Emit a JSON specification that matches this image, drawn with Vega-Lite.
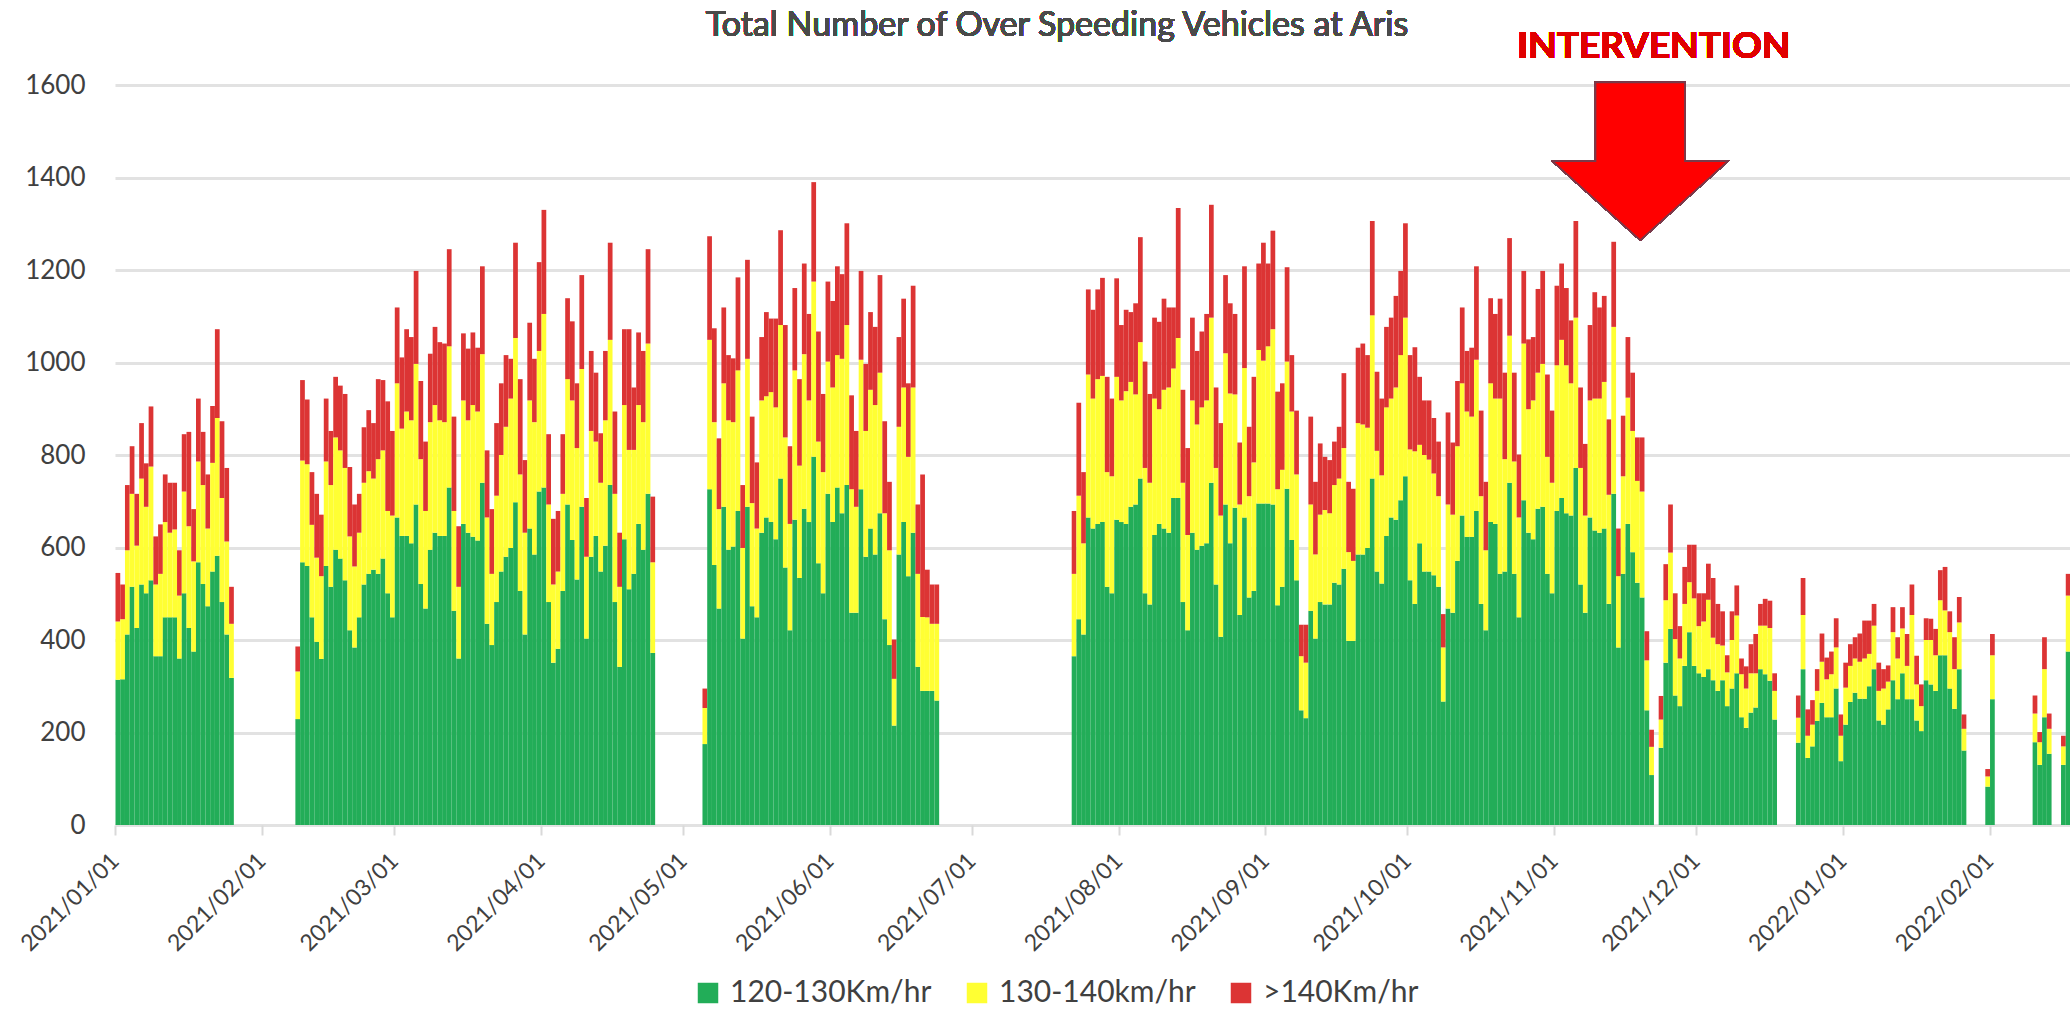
{
"$schema": "https://vega.github.io/schema/vega-lite/v6.json",
"width": 1955, "height": 740,
"autosize": {"type": "none"},
"padding": {"left": 115, "top": 85, "right": 0, "bottom": 196},
"background": "white",
"config": {"view": {"stroke": null}, "font": "Lato"},
"data": {"values": [
{"date":"2021-01-01","v120":314,"v130":126,"v140":105},
{"date":"2021-01-02","v120":315,"v130":130,"v140":75},
{"date":"2021-01-03","v120":412,"v130":182,"v140":141},
{"date":"2021-01-04","v120":515,"v130":201,"v140":103},
{"date":"2021-01-05","v120":426,"v130":178,"v140":112},
{"date":"2021-01-06","v120":520,"v130":229,"v140":120},
{"date":"2021-01-07","v120":501,"v130":187,"v140":94},
{"date":"2021-01-08","v120":529,"v130":246,"v140":130},
{"date":"2021-01-09","v120":365,"v130":155,"v140":104},
{"date":"2021-01-10","v120":365,"v130":178,"v140":107},
{"date":"2021-01-11","v120":449,"v130":206,"v140":103},
{"date":"2021-01-12","v120":449,"v130":183,"v140":108},
{"date":"2021-01-13","v120":449,"v130":190,"v140":101},
{"date":"2021-01-14","v120":360,"v130":136,"v140":98},
{"date":"2021-01-15","v120":501,"v130":220,"v140":124},
{"date":"2021-01-16","v120":426,"v130":220,"v140":204},
{"date":"2021-01-17","v120":375,"v130":195,"v140":113},
{"date":"2021-01-18","v120":568,"v130":218,"v140":136},
{"date":"2021-01-19","v120":521,"v130":214,"v140":115},
{"date":"2021-01-20","v120":473,"v130":168,"v140":117},
{"date":"2021-01-21","v120":548,"v130":235,"v140":123},
{"date":"2021-01-22","v120":582,"v130":298,"v140":192},
{"date":"2021-01-23","v120":482,"v130":225,"v140":166},
{"date":"2021-01-24","v120":412,"v130":201,"v140":159},
{"date":"2021-01-25","v120":318,"v130":117,"v140":80},
{"date":"2021-02-08","v120":229,"v130":103,"v140":54},
{"date":"2021-02-09","v120":568,"v130":220,"v140":174},
{"date":"2021-02-10","v120":560,"v130":220,"v140":140},
{"date":"2021-02-11","v120":449,"v130":200,"v140":114},
{"date":"2021-02-12","v120":396,"v130":182,"v140":138},
{"date":"2021-02-13","v120":359,"v130":179,"v140":133},
{"date":"2021-02-14","v120":560,"v130":226,"v140":136},
{"date":"2021-02-15","v120":515,"v130":220,"v140":117},
{"date":"2021-02-16","v120":595,"v130":243,"v140":131},
{"date":"2021-02-17","v120":576,"v130":234,"v140":140},
{"date":"2021-02-18","v120":529,"v130":243,"v140":160},
{"date":"2021-02-19","v120":421,"v130":203,"v140":150},
{"date":"2021-02-20","v120":384,"v130":175,"v140":134},
{"date":"2021-02-21","v120":449,"v130":183,"v140":84},
{"date":"2021-02-22","v120":520,"v130":220,"v140":120},
{"date":"2021-02-23","v120":543,"v130":222,"v140":132},
{"date":"2021-02-24","v120":552,"v130":197,"v140":120},
{"date":"2021-02-25","v120":543,"v130":248,"v140":173},
{"date":"2021-02-26","v120":576,"v130":234,"v140":152},
{"date":"2021-02-27","v120":501,"v130":178,"v140":237},
{"date":"2021-02-28","v120":449,"v130":220,"v140":183},
{"date":"2021-03-01","v120":665,"v130":290,"v140":164},
{"date":"2021-03-02","v120":625,"v130":232,"v140":154},
{"date":"2021-03-03","v120":625,"v130":269,"v140":178},
{"date":"2021-03-04","v120":609,"v130":266,"v140":180},
{"date":"2021-03-05","v120":693,"v130":304,"v140":201},
{"date":"2021-03-06","v120":521,"v130":270,"v140":169},
{"date":"2021-03-07","v120":468,"v130":211,"v140":150},
{"date":"2021-03-08","v120":595,"v130":276,"v140":148},
{"date":"2021-03-09","v120":632,"v130":276,"v140":169},
{"date":"2021-03-10","v120":625,"v130":250,"v140":169},
{"date":"2021-03-11","v120":625,"v130":246,"v140":170},
{"date":"2021-03-12","v120":730,"v130":305,"v140":210},
{"date":"2021-03-13","v120":463,"v130":216,"v140":204},
{"date":"2021-03-14","v120":360,"v130":155,"v140":131},
{"date":"2021-03-15","v120":651,"v130":267,"v140":145},
{"date":"2021-03-16","v120":632,"v130":243,"v140":155},
{"date":"2021-03-17","v120":623,"v130":285,"v140":157},
{"date":"2021-03-18","v120":615,"v130":279,"v140":138},
{"date":"2021-03-19","v120":740,"v130":278,"v140":190},
{"date":"2021-03-20","v120":435,"v130":230,"v140":145},
{"date":"2021-03-21","v120":389,"v130":154,"v140":140},
{"date":"2021-03-22","v120":482,"v130":230,"v140":157},
{"date":"2021-03-23","v120":548,"v130":252,"v140":155},
{"date":"2021-03-24","v120":580,"v130":281,"v140":155},
{"date":"2021-03-25","v120":599,"v130":323,"v140":86},
{"date":"2021-03-26","v120":698,"v130":355,"v140":206},
{"date":"2021-03-27","v120":506,"v130":252,"v140":206},
{"date":"2021-03-28","v120":412,"v130":220,"v140":157},
{"date":"2021-03-29","v120":641,"v130":277,"v140":168},
{"date":"2021-03-30","v120":585,"v130":286,"v140":137},
{"date":"2021-03-31","v120":721,"v130":304,"v140":192},
{"date":"2021-04-01","v120":730,"v130":375,"v140":225},
{"date":"2021-04-02","v120":482,"v130":211,"v140":152},
{"date":"2021-04-03","v120":351,"v130":169,"v140":142},
{"date":"2021-04-04","v120":381,"v130":167,"v140":131},
{"date":"2021-04-05","v120":506,"v130":210,"v140":129},
{"date":"2021-04-06","v120":693,"v130":271,"v140":175},
{"date":"2021-04-07","v120":616,"v130":302,"v140":171},
{"date":"2021-04-08","v120":531,"v130":284,"v140":140},
{"date":"2021-04-09","v120":688,"v130":298,"v140":203},
{"date":"2021-04-10","v120":403,"v130":177,"v140":127},
{"date":"2021-04-11","v120":580,"v130":272,"v140":173},
{"date":"2021-04-12","v120":625,"v130":204,"v140":149},
{"date":"2021-04-13","v120":548,"v130":192,"v140":107},
{"date":"2021-04-14","v120":604,"v130":271,"v140":150},
{"date":"2021-04-15","v120":735,"v130":314,"v140":210},
{"date":"2021-04-16","v120":482,"v130":234,"v140":178},
{"date":"2021-04-17","v120":342,"v130":173,"v140":117},
{"date":"2021-04-18","v120":618,"v130":290,"v140":164},
{"date":"2021-04-19","v120":510,"v130":301,"v140":261},
{"date":"2021-04-20","v120":543,"v130":268,"v140":135},
{"date":"2021-04-21","v120":651,"v130":257,"v140":157},
{"date":"2021-04-22","v120":595,"v130":276,"v140":154},
{"date":"2021-04-23","v120":716,"v130":325,"v140":204},
{"date":"2021-04-24","v120":372,"v130":196,"v140":142},
{"date":"2021-05-05","v120":175,"v130":78,"v140":42},
{"date":"2021-05-06","v120":726,"v130":323,"v140":224},
{"date":"2021-05-07","v120":562,"v130":309,"v140":203},
{"date":"2021-05-08","v120":468,"v130":215,"v140":153},
{"date":"2021-05-09","v120":688,"v130":267,"v140":164},
{"date":"2021-05-10","v120":595,"v130":280,"v140":141},
{"date":"2021-05-11","v120":602,"v130":269,"v140":138},
{"date":"2021-05-12","v120":679,"v130":304,"v140":201},
{"date":"2021-05-13","v120":403,"v130":196,"v140":136},
{"date":"2021-05-14","v120":688,"v130":320,"v140":214},
{"date":"2021-05-15","v120":473,"v130":223,"v140":187},
{"date":"2021-05-16","v120":449,"v130":192,"v140":143},
{"date":"2021-05-17","v120":632,"v130":286,"v140":137},
{"date":"2021-05-18","v120":665,"v130":262,"v140":182},
{"date":"2021-05-19","v120":655,"v130":281,"v140":159},
{"date":"2021-05-20","v120":618,"v130":285,"v140":192},
{"date":"2021-05-21","v120":749,"v130":332,"v140":205},
{"date":"2021-05-22","v120":557,"v130":281,"v140":243},
{"date":"2021-05-23","v120":421,"v130":230,"v140":168},
{"date":"2021-05-24","v120":660,"v130":323,"v140":178},
{"date":"2021-05-25","v120":534,"v130":243,"v140":187},
{"date":"2021-05-26","v120":684,"v130":334,"v140":196},
{"date":"2021-05-27","v120":655,"v130":263,"v140":187},
{"date":"2021-05-28","v120":796,"v130":379,"v140":215},
{"date":"2021-05-29","v120":566,"v130":263,"v140":238},
{"date":"2021-05-30","v120":501,"v130":262,"v140":169},
{"date":"2021-05-31","v120":716,"v130":286,"v140":173},
{"date":"2021-06-01","v120":655,"v130":291,"v140":187},
{"date":"2021-06-02","v120":730,"v130":286,"v140":192},
{"date":"2021-06-03","v120":674,"v130":334,"v140":183},
{"date":"2021-06-04","v120":735,"v130":346,"v140":220},
{"date":"2021-06-05","v120":459,"v130":267,"v140":203},
{"date":"2021-06-06","v120":459,"v130":229,"v140":164},
{"date":"2021-06-07","v120":726,"v130":280,"v140":192},
{"date":"2021-06-08","v120":580,"v130":272,"v140":145},
{"date":"2021-06-09","v120":641,"v130":300,"v140":168},
{"date":"2021-06-10","v120":585,"v130":323,"v140":169},
{"date":"2021-06-11","v120":674,"v130":304,"v140":211},
{"date":"2021-06-12","v120":445,"v130":229,"v140":199},
{"date":"2021-06-13","v120":389,"v130":205,"v140":148},
{"date":"2021-06-14","v120":215,"v130":101,"v140":85},
{"date":"2021-06-15","v120":585,"v130":276,"v140":194},
{"date":"2021-06-16","v120":655,"v130":291,"v140":192},
{"date":"2021-06-17","v120":538,"v130":258,"v140":159},
{"date":"2021-06-18","v120":632,"v130":314,"v140":220},
{"date":"2021-06-19","v120":342,"v130":201,"v140":150},
{"date":"2021-06-20","v120":290,"v130":160,"v140":308},
{"date":"2021-06-21","v120":290,"v130":159,"v140":103},
{"date":"2021-06-22","v120":290,"v130":145,"v140":85},
{"date":"2021-06-23","v120":269,"v130":166,"v140":85},
{"date":"2021-07-22","v120":365,"v130":178,"v140":136},
{"date":"2021-07-23","v120":445,"v130":267,"v140":201},
{"date":"2021-07-24","v120":412,"v130":197,"v140":154},
{"date":"2021-07-25","v120":665,"v130":309,"v140":184},
{"date":"2021-07-26","v120":641,"v130":281,"v140":192},
{"date":"2021-07-27","v120":651,"v130":313,"v140":194},
{"date":"2021-07-28","v120":655,"v130":316,"v140":212},
{"date":"2021-07-29","v120":515,"v130":248,"v140":206},
{"date":"2021-07-30","v120":501,"v130":253,"v140":168},
{"date":"2021-07-31","v120":660,"v130":309,"v140":213},
{"date":"2021-08-01","v120":655,"v130":263,"v140":163},
{"date":"2021-08-02","v120":651,"v130":287,"v140":176},
{"date":"2021-08-03","v120":688,"v130":270,"v140":151},
{"date":"2021-08-04","v120":693,"v130":238,"v140":197},
{"date":"2021-08-05","v120":749,"v130":295,"v140":227},
{"date":"2021-08-06","v120":501,"v130":271,"v140":230},
{"date":"2021-08-07","v120":477,"v130":263,"v140":192},
{"date":"2021-08-08","v120":627,"v130":295,"v140":175},
{"date":"2021-08-09","v120":651,"v130":248,"v140":189},
{"date":"2021-08-10","v120":641,"v130":300,"v140":197},
{"date":"2021-08-11","v120":632,"v130":314,"v140":173},
{"date":"2021-08-12","v120":707,"v130":280,"v140":132},
{"date":"2021-08-13","v120":707,"v130":346,"v140":281},
{"date":"2021-08-14","v120":482,"v130":258,"v140":201},
{"date":"2021-08-15","v120":421,"v130":206,"v140":188},
{"date":"2021-08-16","v120":632,"v130":286,"v140":179},
{"date":"2021-08-17","v120":595,"v130":271,"v140":159},
{"date":"2021-08-18","v120":604,"v130":299,"v140":164},
{"date":"2021-08-19","v120":609,"v130":309,"v140":187},
{"date":"2021-08-20","v120":740,"v130":357,"v140":244},
{"date":"2021-08-21","v120":520,"v130":252,"v140":174},
{"date":"2021-08-22","v120":407,"v130":262,"v140":200},
{"date":"2021-08-23","v120":693,"v130":327,"v140":169},
{"date":"2021-08-24","v120":609,"v130":324,"v140":195},
{"date":"2021-08-25","v120":686,"v130":245,"v140":174},
{"date":"2021-08-26","v120":454,"v130":239,"v140":134},
{"date":"2021-08-27","v120":665,"v130":323,"v140":220},
{"date":"2021-08-28","v120":492,"v130":219,"v140":150},
{"date":"2021-08-29","v120":506,"v130":278,"v140":185},
{"date":"2021-08-30","v120":695,"v130":332,"v140":187},
{"date":"2021-08-31","v120":695,"v130":309,"v140":255},
{"date":"2021-09-01","v120":695,"v130":340,"v140":179},
{"date":"2021-09-02","v120":693,"v130":379,"v140":213},
{"date":"2021-09-03","v120":475,"v130":251,"v140":211},
{"date":"2021-09-04","v120":515,"v130":253,"v140":187},
{"date":"2021-09-05","v120":727,"v130":275,"v140":204},
{"date":"2021-09-06","v120":616,"v130":278,"v140":122},
{"date":"2021-09-07","v120":529,"v130":229,"v140":138},
{"date":"2021-09-08","v120":248,"v130":117,"v140":68},
{"date":"2021-09-09","v120":231,"v130":120,"v140":82},
{"date":"2021-09-10","v120":463,"v130":230,"v140":190},
{"date":"2021-09-11","v120":403,"v130":182,"v140":157},
{"date":"2021-09-12","v120":482,"v130":189,"v140":154},
{"date":"2021-09-13","v120":477,"v130":204,"v140":115},
{"date":"2021-09-14","v120":477,"v130":197,"v140":115},
{"date":"2021-09-15","v120":524,"v130":211,"v140":94},
{"date":"2021-09-16","v120":520,"v130":229,"v140":112},
{"date":"2021-09-17","v120":554,"v130":261,"v140":162},
{"date":"2021-09-18","v120":398,"v130":192,"v140":152},
{"date":"2021-09-19","v120":398,"v130":173,"v140":156},
{"date":"2021-09-20","v120":585,"v130":284,"v140":163},
{"date":"2021-09-21","v120":585,"v130":281,"v140":175},
{"date":"2021-09-22","v120":599,"v130":260,"v140":157},
{"date":"2021-09-23","v120":749,"v130":353,"v140":204},
{"date":"2021-09-24","v120":548,"v130":261,"v140":171},
{"date":"2021-09-25","v120":522,"v130":234,"v140":166},
{"date":"2021-09-26","v120":625,"v130":278,"v140":174},
{"date":"2021-09-27","v120":665,"v130":257,"v140":175},
{"date":"2021-09-28","v120":660,"v130":286,"v140":198},
{"date":"2021-09-29","v120":702,"v130":314,"v140":182},
{"date":"2021-09-30","v120":754,"v130":343,"v140":204},
{"date":"2021-10-01","v120":529,"v130":283,"v140":204},
{"date":"2021-10-02","v120":478,"v130":330,"v140":225},
{"date":"2021-10-03","v120":609,"v130":213,"v140":147},
{"date":"2021-10-04","v120":548,"v130":252,"v140":118},
{"date":"2021-10-05","v120":548,"v130":242,"v140":128},
{"date":"2021-10-06","v120":540,"v130":220,"v140":120},
{"date":"2021-10-07","v120":515,"v130":196,"v140":118},
{"date":"2021-10-08","v120":267,"v130":117,"v140":72},
{"date":"2021-10-09","v120":468,"v130":225,"v140":199},
{"date":"2021-10-10","v120":459,"v130":212,"v140":156},
{"date":"2021-10-11","v120":571,"v130":248,"v140":141},
{"date":"2021-10-12","v120":669,"v130":286,"v140":164},
{"date":"2021-10-13","v120":623,"v130":271,"v140":131},
{"date":"2021-10-14","v120":623,"v130":260,"v140":149},
{"date":"2021-10-15","v120":679,"v130":327,"v140":202},
{"date":"2021-10-16","v120":478,"v130":233,"v140":185},
{"date":"2021-10-17","v120":421,"v130":173,"v140":148},
{"date":"2021-10-18","v120":655,"v130":300,"v140":184},
{"date":"2021-10-19","v120":651,"v130":271,"v140":183},
{"date":"2021-10-20","v120":543,"v130":379,"v140":216},
{"date":"2021-10-21","v120":548,"v130":243,"v140":187},
{"date":"2021-10-22","v120":740,"v130":318,"v140":211},
{"date":"2021-10-23","v120":543,"v130":243,"v140":192},
{"date":"2021-10-24","v120":449,"v130":216,"v140":136},
{"date":"2021-10-25","v120":702,"v130":339,"v140":157},
{"date":"2021-10-26","v120":632,"v130":267,"v140":151},
{"date":"2021-10-27","v120":618,"v130":300,"v140":137},
{"date":"2021-10-28","v120":684,"v130":294,"v140":181},
{"date":"2021-10-29","v120":688,"v130":309,"v140":201},
{"date":"2021-10-30","v120":543,"v130":253,"v140":178},
{"date":"2021-10-31","v120":501,"v130":239,"v140":156},
{"date":"2021-11-01","v120":679,"v130":315,"v140":172},
{"date":"2021-11-02","v120":707,"v130":342,"v140":165},
{"date":"2021-11-03","v120":674,"v130":320,"v140":167},
{"date":"2021-11-04","v120":669,"v130":286,"v140":136},
{"date":"2021-11-05","v120":772,"v130":325,"v140":209},
{"date":"2021-11-06","v120":520,"v130":252,"v140":174},
{"date":"2021-11-07","v120":459,"v130":210,"v140":155},
{"date":"2021-11-08","v120":665,"v130":253,"v140":163},
{"date":"2021-11-09","v120":637,"v130":285,"v140":230},
{"date":"2021-11-10","v120":632,"v130":290,"v140":197},
{"date":"2021-11-11","v120":641,"v130":317,"v140":186},
{"date":"2021-11-12","v120":478,"v130":236,"v140":163},
{"date":"2021-11-13","v120":716,"v130":361,"v140":184},
{"date":"2021-11-14","v120":384,"v130":154,"v140":103},
{"date":"2021-11-15","v120":543,"v130":211,"v140":131},
{"date":"2021-11-16","v120":651,"v130":273,"v140":131},
{"date":"2021-11-17","v120":590,"v130":262,"v140":126},
{"date":"2021-11-18","v120":524,"v130":220,"v140":94},
{"date":"2021-11-19","v120":492,"v130":229,"v140":117},
{"date":"2021-11-20","v120":248,"v130":108,"v140":63},
{"date":"2021-11-21","v120":108,"v130":61,"v140":37},
{"date":"2021-11-23","v120":167,"v130":61,"v140":51},
{"date":"2021-11-24","v120":351,"v130":135,"v140":78},
{"date":"2021-11-25","v120":424,"v130":165,"v140":104},
{"date":"2021-11-26","v120":280,"v130":122,"v140":99},
{"date":"2021-11-27","v120":257,"v130":103,"v140":70},
{"date":"2021-11-28","v120":344,"v130":134,"v140":80},
{"date":"2021-11-29","v120":417,"v130":108,"v140":81},
{"date":"2021-11-30","v120":344,"v130":146,"v140":116},
{"date":"2021-12-01","v120":328,"v130":102,"v140":71},
{"date":"2021-12-02","v120":320,"v130":120,"v140":61},
{"date":"2021-12-03","v120":337,"v130":150,"v140":78},
{"date":"2021-12-04","v120":313,"v130":92,"v140":129},
{"date":"2021-12-05","v120":290,"v130":101,"v140":87},
{"date":"2021-12-06","v120":313,"v130":75,"v140":74},
{"date":"2021-12-07","v120":257,"v130":73,"v140":37},
{"date":"2021-12-08","v120":295,"v130":105,"v140":62},
{"date":"2021-12-09","v120":328,"v130":125,"v140":65},
{"date":"2021-12-10","v120":233,"v130":93,"v140":34},
{"date":"2021-12-11","v120":210,"v130":85,"v140":48},
{"date":"2021-12-12","v120":243,"v130":85,"v140":63},
{"date":"2021-12-13","v120":254,"v130":74,"v140":85},
{"date":"2021-12-14","v120":337,"v130":94,"v140":47},
{"date":"2021-12-15","v120":326,"v130":105,"v140":58},
{"date":"2021-12-16","v120":312,"v130":114,"v140":59},
{"date":"2021-12-17","v120":228,"v130":62,"v140":38},
{"date":"2021-12-22","v120":178,"v130":54,"v140":48},
{"date":"2021-12-23","v120":337,"v130":117,"v140":80},
{"date":"2021-12-24","v120":145,"v130":48,"v140":57},
{"date":"2021-12-25","v120":170,"v130":47,"v140":53},
{"date":"2021-12-26","v120":225,"v130":65,"v140":47},
{"date":"2021-12-27","v120":264,"v130":89,"v140":61},
{"date":"2021-12-28","v120":233,"v130":82,"v140":47},
{"date":"2021-12-29","v120":233,"v130":93,"v140":49},
{"date":"2021-12-30","v120":295,"v130":89,"v140":63},
{"date":"2021-12-31","v120":138,"v130":55,"v140":46},
{"date":"2022-01-01","v120":217,"v130":80,"v140":54},
{"date":"2022-01-02","v120":266,"v130":78,"v140":47},
{"date":"2022-01-03","v120":286,"v130":74,"v140":46},
{"date":"2022-01-04","v120":273,"v130":80,"v140":61},
{"date":"2022-01-05","v120":273,"v130":87,"v140":82},
{"date":"2022-01-06","v120":300,"v130":70,"v140":72},
{"date":"2022-01-07","v120":337,"v130":94,"v140":47},
{"date":"2022-01-08","v120":226,"v130":64,"v140":61},
{"date":"2022-01-09","v120":217,"v130":78,"v140":42},
{"date":"2022-01-10","v120":250,"v130":60,"v140":35},
{"date":"2022-01-11","v120":313,"v130":104,"v140":54},
{"date":"2022-01-12","v120":272,"v130":88,"v140":46},
{"date":"2022-01-13","v120":328,"v130":97,"v140":46},
{"date":"2022-01-14","v120":272,"v130":72,"v140":69},
{"date":"2022-01-15","v120":272,"v130":182,"v140":66},
{"date":"2022-01-16","v120":226,"v130":78,"v140":62},
{"date":"2022-01-17","v120":203,"v130":54,"v140":47},
{"date":"2022-01-18","v120":313,"v130":87,"v140":47},
{"date":"2022-01-19","v120":304,"v130":96,"v140":46},
{"date":"2022-01-20","v120":290,"v130":77,"v140":57},
{"date":"2022-01-21","v120":367,"v130":119,"v140":65},
{"date":"2022-01-22","v120":367,"v130":97,"v140":94},
{"date":"2022-01-23","v120":295,"v130":122,"v140":45},
{"date":"2022-01-24","v120":251,"v130":86,"v140":69},
{"date":"2022-01-25","v120":337,"v130":101,"v140":55},
{"date":"2022-01-26","v120":161,"v130":47,"v140":31},
{"date":"2022-01-31","v120":83,"v130":22,"v140":16},
{"date":"2022-02-01","v120":272,"v130":95,"v140":46},
{"date":"2022-02-10","v120":179,"v130":62,"v140":39},
{"date":"2022-02-11","v120":130,"v130":49,"v140":22},
{"date":"2022-02-12","v120":233,"v130":104,"v140":69},
{"date":"2022-02-13","v120":154,"v130":54,"v140":33},
{"date":"2022-02-16","v120":130,"v130":40,"v140":23},
{"date":"2022-02-17","v120":375,"v130":121,"v140":47}
]},
"layer": [
{
"transform": [{"fold": ["v120", "v130", "v140"], "as": ["speed", "count"]}],
"mark": {"type": "bar", "binSpacing": 0, "clip": true},
"encoding": {
"x": {"field": "date", "timeUnit": "utcyearmonthdate", "type": "temporal",
 "scale": {"domain": [{"year": 2021, "month": 1, "date": 1, "utc": true}, {"year": 2022, "month": 2, "date": 18, "utc": true}]},
 "axis": {"title": null, "labelExpr": "utcFormat(datum.value, '%Y/%m/%d')", "labelAngle": -45, "labelAlign": "right", "labelBaseline": "middle", "labelFontSize": 23, "labelColor": "#404040", "labelFont": "Lato", "labelPadding": 22, "labelOverlap": false, "labelFlush": false, "labelLimit": 400, "domain": false, "grid": false, "ticks": true, "tickColor": "#d9d9d9", "tickSize": 10, "tickWidth": 2,
 "values": [{"year": 2021, "month": 1, "date": 1, "utc": true}, {"year": 2021, "month": 2, "date": 1, "utc": true}, {"year": 2021, "month": 3, "date": 1, "utc": true}, {"year": 2021, "month": 4, "date": 1, "utc": true}, {"year": 2021, "month": 5, "date": 1, "utc": true}, {"year": 2021, "month": 6, "date": 1, "utc": true}, {"year": 2021, "month": 7, "date": 1, "utc": true}, {"year": 2021, "month": 8, "date": 1, "utc": true}, {"year": 2021, "month": 9, "date": 1, "utc": true}, {"year": 2021, "month": 10, "date": 1, "utc": true}, {"year": 2021, "month": 11, "date": 1, "utc": true}, {"year": 2021, "month": 12, "date": 1, "utc": true}, {"year": 2022, "month": 1, "date": 1, "utc": true}, {"year": 2022, "month": 2, "date": 1, "utc": true}]}},
"y": {"field": "count", "type": "quantitative", "stack": "zero", "scale": {"domain": [0, 1600], "nice": false},
 "axis": {"title": null, "values": [0, 200, 400, 600, 800, 1000, 1200, 1400, 1600], "format": "d", "domain": false, "ticks": false, "labelFontSize": 26, "labelColor": "#404040", "labelFont": "Lato", "labelPadding": 30, "grid": true, "gridColor": "#e2e2e2", "gridWidth": 3}},
"order": {"field": "speed", "sort": "ascending"},
"color": {"field": "speed", "type": "nominal", "sort": ["v120", "v130", "v140"],
 "scale": {"domain": ["v120", "v130", "v140"], "range": ["#22ad58", "#ffff33", "#dc3434"]},
 "legend": {"title": null, "orient": "none", "legendX": 578, "legendY": 893, "direction": "horizontal", "symbolType": "square", "symbolSize": 420, "symbolStrokeWidth": 0, "labelFontSize": 30, "labelFont": "Lato", "labelColor": "#404040", "labelOffset": 7, "labelLimit": 400, "columnPadding": 30,
  "labelExpr": "{'v120': '120-130Km/hr', 'v130': '130-140km/hr', 'v140': '>140Km/hr'}[datum.value]"}}
}
},
{
"mark": {"type": "point", "shape": "M-0.51,-0.9 L0.51,-0.9 L0.51,0 L1,0 L0,0.9 L-1,0 L-0.51,0 Z", "filled": true, "size": 30625, "color": "#ff0000", "stroke": "#7a3a4a", "strokeWidth": 1.5, "opacity": 1, "clip": false},
"encoding": {
"x": {"datum": {"year": 2021, "month": 11, "date": 19, "hours": 5, "utc": true}, "type": "temporal"},
"y": {"datum": 1435, "type": "quantitative"}
}
},
{
"mark": {"type": "text", "text": "INTERVENTION", "font": "Lato", "fontSize": 37, "fontWeight": "bold", "color": "#e00000", "align": "center", "baseline": "middle", "clip": false},
"encoding": {
"x": {"datum": {"year": 2021, "month": 11, "date": 22, "hours": 2, "utc": true}, "type": "temporal"},
"y": {"datum": 1682, "type": "quantitative"}
}
},
{
"mark": {"type": "text", "text": "Total Number of Over Speeding Vehicles at Aris", "font": "Lato", "fontSize": 34, "fontWeight": "normal", "color": "#4a4a4a", "align": "center", "baseline": "middle", "clip": false},
"encoding": {
"x": {"datum": {"year": 2021, "month": 7, "date": 19, "utc": true}, "type": "temporal"},
"y": {"datum": 1728, "type": "quantitative"}
}
}
]
}
